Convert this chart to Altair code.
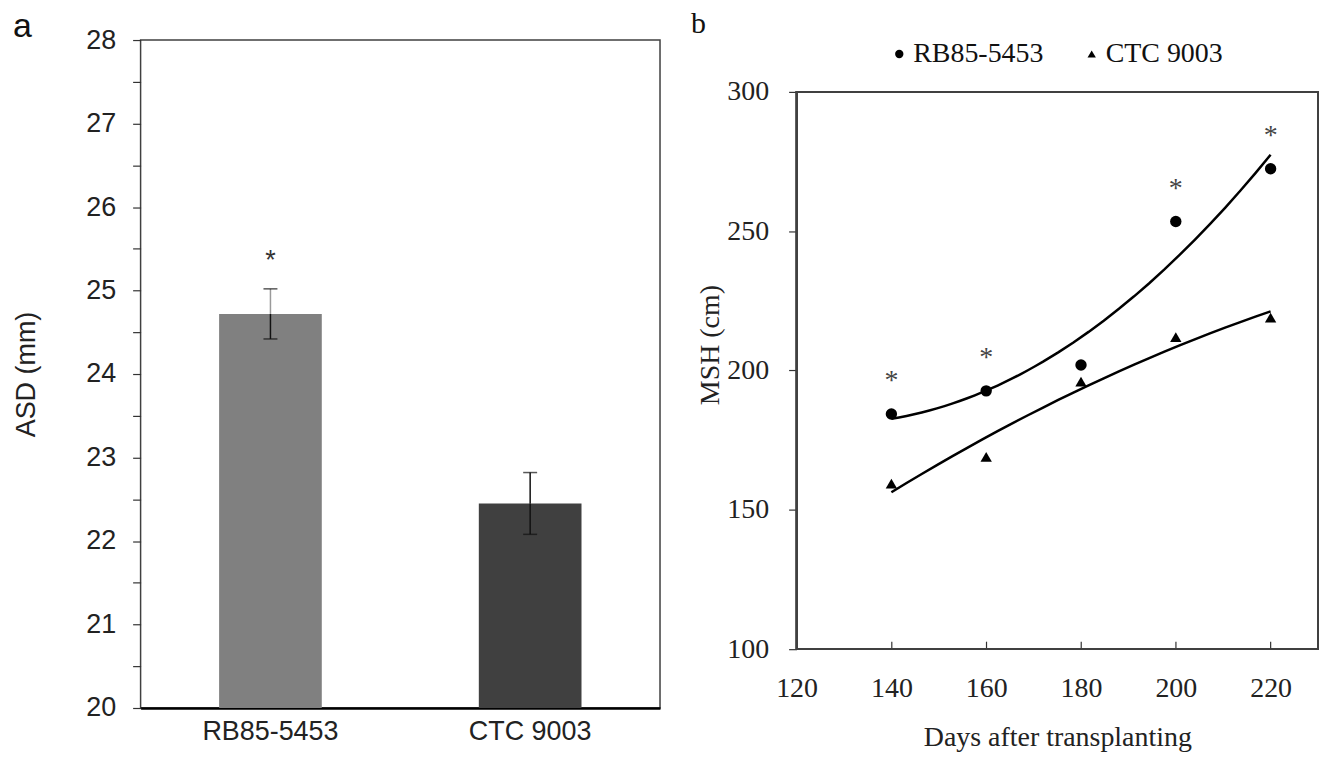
import altair as alt
import pandas as pd

# ---- panel a data ----
varieties = ["RB85-5453", "CTC 9003"]
asd_mean = [24.72, 22.45]
asd_err = [0.30, 0.37]
asd_sig = ["*", ""]
bar_colors = ["#808080", "#404040"]
upper_err_colors = ["#9a9a9a", "#111111"]
asd_ticks = [20, 20.5, 21, 21.5, 22, 22.5, 23, 23.5, 24, 24.5, 25, 25.5, 26, 26.5, 27, 27.5, 28]

# ---- panel b data ----
days = [140, 160, 180, 200, 220]
msh_rb = [184.4, 192.7, 202.0, 253.5, 272.4]
msh_ctc = [159.4, 169.0, 196.0, 212.0, 219.0]
sig_rb = ["*", "*", "", "*", "*"]
sig_ctc = ["", "", "", "", ""]
x_ticks = [120, 140, 160, 180, 200, 220]
y_ticks = [100, 150, 200, 250, 300]
box_x = [120, 230]      # plot frame of panel b (data units)
box_y = [100, 300]
y_room = 318.6          # extra headroom above the frame, holds the legend

SANS = "Liberation Sans"
SERIF = "Liberation Serif"
FRAME = "#404040"

df_a = pd.DataFrame({
    "variety": varieties,
    "mean": asd_mean,
    "lo": [m - e for m, e in zip(asd_mean, asd_err)],
    "hi": [m + e for m, e in zip(asd_mean, asd_err)],
    "sig": asd_sig,
    "upcol": upper_err_colors,
})

xa = alt.X("variety:N", sort=varieties,
           scale=alt.Scale(paddingInner=0, paddingOuter=0),
           axis=alt.Axis(title=None, labelFont=SANS, labelFontSize=27, labelColor="#222",
                         labelAngle=0, ticks=False, labelPadding=11,
                         domainColor="#000", domainWidth=2.5))
xs = alt.X("variety:N", sort=varieties)
ya_scale = alt.Scale(domain=[20, 28], nice=False, zero=False)

bars = alt.Chart(df_a).mark_bar(size=103).encode(
    x=xa,
    y=alt.Y("mean:Q", scale=ya_scale,
            axis=alt.Axis(title="ASD (mm)", values=asd_ticks,
                          labelExpr="datum.value % 1 == 0 ? format(datum.value, '.0f') : ''",
                          labelFont=SANS, labelFontSize=27, labelColor="#222", labelFlush=False,
                          titleFont=SANS, titleFontSize=27, titleFontWeight="normal",
                          titleColor="#222", titlePadding=45,
                          tickSize=8, tickColor="#333", tickWidth=1.2,
                          labelPadding=17, domain=False, grid=False)),
    y2=alt.datum(20),
    color=alt.Color("variety:N", scale=alt.Scale(domain=varieties, range=bar_colors), legend=None),
)
err_low = alt.Chart(df_a).mark_rule(color="#111", strokeWidth=1.5).encode(
    x=xs, y="lo:Q", y2="mean:Q")
err_up = alt.Chart(df_a).mark_rule(strokeWidth=1.5).encode(
    x=xs, y="mean:Q", y2="hi:Q", color=alt.Color("upcol:N", scale=None))
cap_hi = alt.Chart(df_a).mark_tick(color="#111", size=14, thickness=1.5, orient="horizontal").encode(
    x=xs, y="hi:Q")
cap_lo = alt.Chart(df_a).mark_tick(color="#111", size=14, thickness=1.5, orient="horizontal").encode(
    x=xs, y="lo:Q")
star_a = alt.Chart(df_a).mark_text(font=SANS, fontSize=27, color="#333",
                                   baseline="alphabetic", dy=-20).encode(
    x=xs, y="hi:Q", text="sig:N")

panel_a = alt.layer(bars, err_low, err_up, cap_hi, cap_lo, star_a).properties(
    width=521, height=670,
    view=alt.ViewBackground(stroke=FRAME, strokeWidth=1.5),
    title=alt.TitleParams("a", anchor="start", frame="bounds", font=SANS, fontSize=34,
                          fontWeight="normal", color="#111", offset=0, baseline="top",
                          dy=18, dx=0),
)

# ---- panel b ----
rows = []
for d, v, s in zip(days, msh_rb, sig_rb):
    rows.append({"day": d, "value": v, "variety": "RB85-5453", "sig": s})
for d, v, s in zip(days, msh_ctc, sig_ctc):
    rows.append({"day": d, "value": v, "variety": "CTC 9003", "sig": s})
df_b = pd.DataFrame(rows)

xb = alt.X("day:Q", scale=alt.Scale(domain=box_x, nice=False, zero=False),
           axis=alt.Axis(title="Days after transplanting", values=x_ticks,
                         labelFont=SERIF, labelFontSize=28, labelColor="#222", labelFlush=False,
                         titleFont=SERIF, titleFontSize=28, titleFontWeight="normal",
                         titleColor="#222", titlePadding=22,
                         tickSize=8, tickColor="#333", tickWidth=1.2, offset=-8,
                         labelPadding=25, domain=False, grid=False))
yb = alt.Y("value:Q", scale=alt.Scale(domain=[box_y[0], y_room], nice=False, zero=False),
           axis=alt.Axis(title="MSH (cm)", values=y_ticks,
                         labelFont=SERIF, labelFontSize=28, labelColor="#222", labelFlush=False,
                         titleFont=SERIF, titleFontSize=28, titleFontWeight="normal",
                         titleColor="#222", titlePadding=2,
                         tickSize=8, tickColor="#333", tickWidth=1.2,
                         labelPadding=20, domain=False, grid=False))

shape_enc = alt.Shape("variety:N",
                      scale=alt.Scale(domain=varieties, range=["circle", "triangle-up"]),
                      legend=alt.Legend(title=None, orient="none", direction="horizontal",
                                        legendX=89, legendY=0, padding=0,
                                        labelFont=SERIF, labelFontSize=28, labelColor="#111",
                                        symbolFillColor="#000", symbolStrokeColor="#000",
                                        symbolSize=70, symbolStrokeWidth=0,
                                        columnPadding=34, labelOffset=0))

frame_b = alt.Chart(df_b).mark_rect(filled=False, stroke=FRAME, strokeWidth=1.5).encode(
    x=alt.datum(box_x[0]), x2=alt.datum(box_x[1]),
    y=alt.datum(box_y[0]), y2=alt.datum(box_y[1]))
points = alt.Chart(df_b).mark_point(filled=True, size=130, color="#000", opacity=1).encode(
    x=xb, y=yb, shape=shape_enc)
lines = alt.Chart(df_b).transform_regression(
    "day", "value", method="poly", order=2, groupby=["variety"]
).mark_line(color="#000", strokeWidth=2.5).encode(
    x="day:Q", y="value:Q", detail="variety:N")
stars_b = alt.Chart(df_b).mark_text(font=SERIF, fontSize=28, color="#444",
                                    baseline="alphabetic", dy=-25).encode(
    x="day:Q", y="value:Q", text="sig:N")

panel_b = alt.layer(points, frame_b, lines, stars_b).properties(
    width=523, height=611,
    view=alt.ViewBackground(strokeWidth=0),
    title=alt.TitleParams("b", anchor="start", frame="bounds", font=SERIF, fontSize=30,
                          fontWeight="normal", color="#111", offset=0, baseline="top",
                          dy=-1, dx=-6),
)

chart = alt.concat(panel_a, panel_b, columns=2, spacing=30, align="none").properties(
    padding={"left": 4, "top": 0, "right": 0, "bottom": 0}
).resolve_legend(shape="independent").configure_view(strokeWidth=0)

chart.save("out.html", embed_options={"renderer": "svg", "actions": False})
